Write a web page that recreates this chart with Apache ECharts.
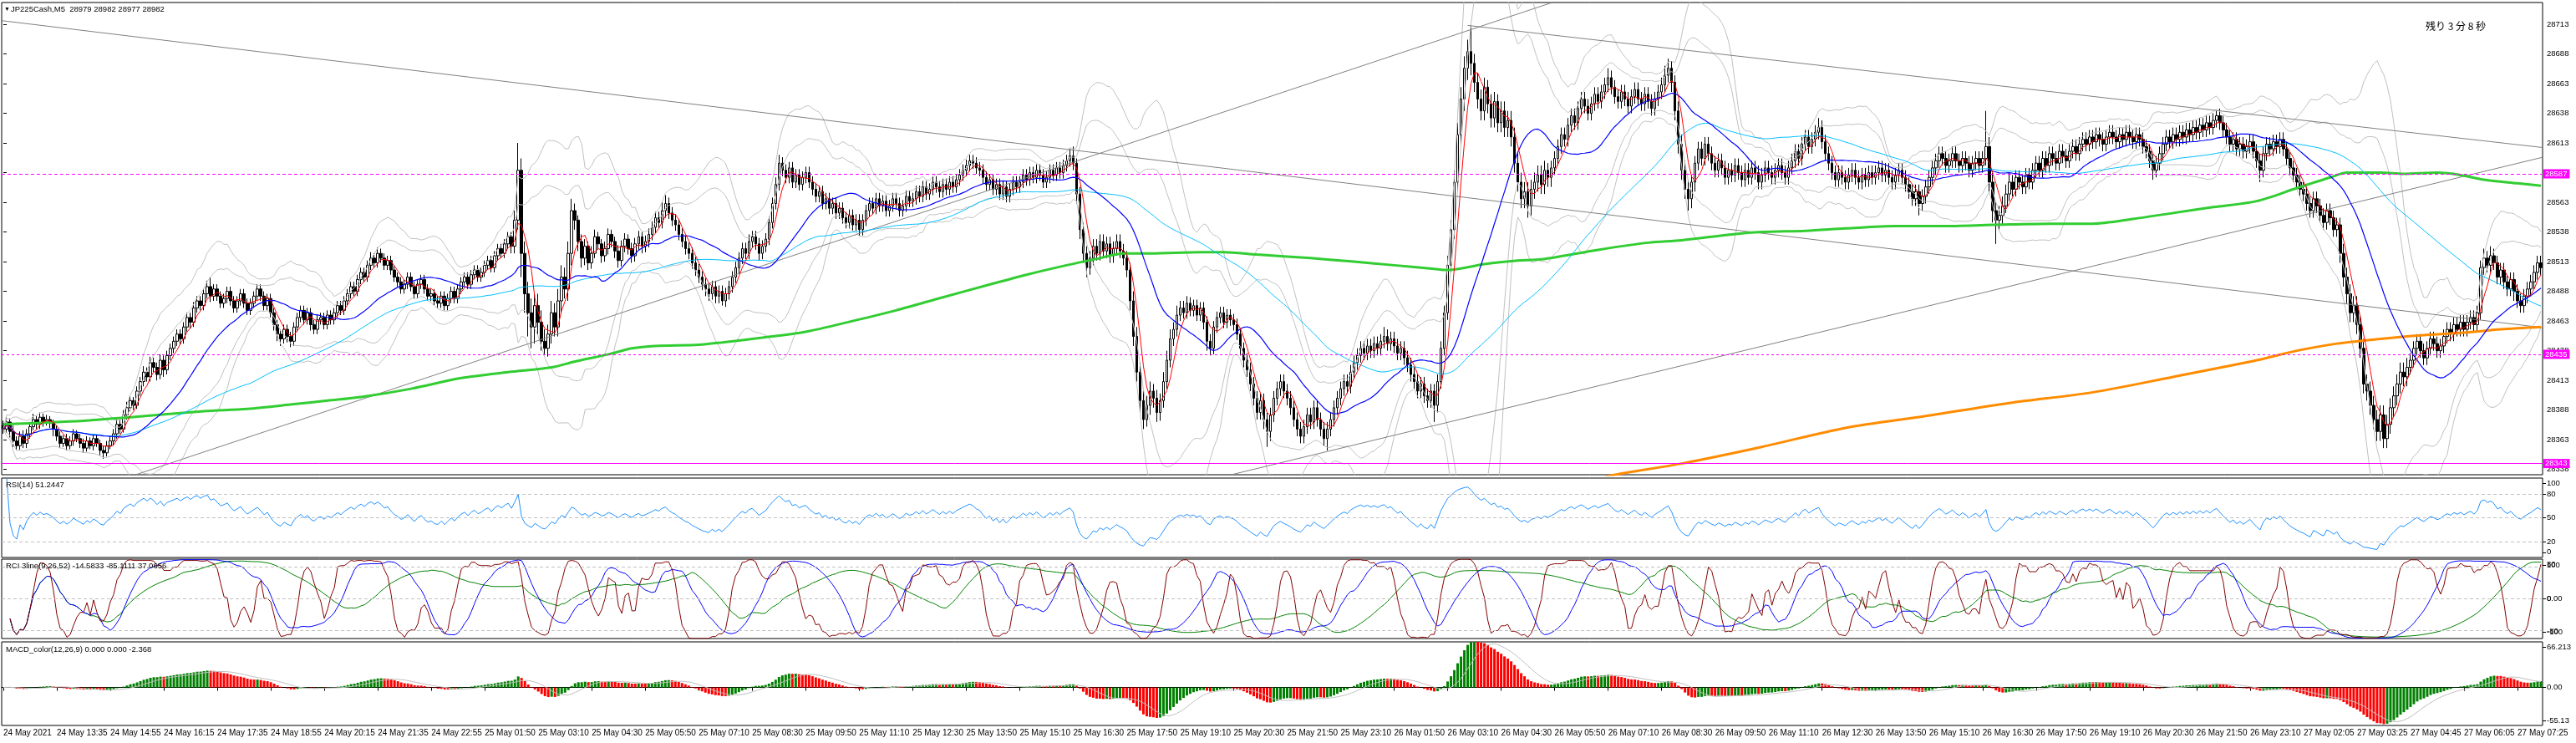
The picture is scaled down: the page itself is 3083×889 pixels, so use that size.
<!DOCTYPE html>
<html><head><meta charset="utf-8">
<script src="https://cdn.jsdelivr.net/npm/echarts@6/dist/echarts.min.js"></script>
<style>html,body{margin:0;padding:0;background:#fff}#c{width:3083px;height:889px}</style>
</head><body><div id="c"></div>
<script>
const timeLabels = ['24 May 2021','24 May 13:35','24 May 14:55','24 May 16:15','24 May 17:35','24 May 18:55','24 May 20:15','24 May 21:35','24 May 22:55','25 May 01:50','25 May 03:10','25 May 04:30','25 May 05:50','25 May 07:10','25 May 08:30','25 May 09:50','25 May 11:10','25 May 12:30','25 May 13:50','25 May 15:10','25 May 16:30','25 May 17:50','25 May 19:10','25 May 20:30','25 May 21:50','25 May 23:10','26 May 01:50','26 May 03:10','26 May 04:30','26 May 05:50','26 May 07:10','26 May 08:30','26 May 09:50','26 May 11:10','26 May 12:30','26 May 13:50','26 May 15:10','26 May 16:30','26 May 17:50','26 May 19:10','26 May 20:30','26 May 21:50','26 May 23:10','27 May 02:05','27 May 03:25','27 May 04:45','27 May 06:05','27 May 07:25'];

const priceTicks = [28338,28363,28388,28413,28438,28463,28488,28513,28538,28563,28588,28613,28638,28663,28688,28713];

const opens = [
28375,28372,28378,28370,28362,28358,28366,28360,28368,28374,28380,28376,28382,28378,28380,28377,
28372,28366,28360,28364,28358,28362,28368,28364,28360,28356,28362,28358,28364,28360,28354,28352,
28358,28362,28368,28376,28372,28384,28390,28396,28392,28404,28412,28420,28416,28428,28424,28418,
28430,28422,28434,28440,28446,28452,28448,28458,28466,28462,28474,28480,28476,28486,28492,28484,
28490,28484,28478,28482,28488,28480,28474,28480,28486,28478,28472,28478,28484,28490,28484,28476,
28482,28470,28460,28452,28448,28456,28450,28446,28458,28466,28472,28464,28470,28460,28456,28464,
28466,28460,28468,28464,28470,28476,28472,28480,28486,28492,28488,28498,28504,28500,28510,28516,
28512,28520,28516,28510,28514,28506,28500,28496,28490,28494,28500,28492,28486,28494,28498,28490,
28484,28486,28480,28478,28484,28476,28482,28488,28482,28490,28496,28500,28494,28502,28506,28500,
28504,28510,28514,28508,28518,28524,28520,28528,28534,28526,28548,28590,28520,28486,28470,28458,
28476,28462,28446,28440,28452,28470,28458,28480,28500,28490,28520,28556,28548,28530,28516,28526,
28512,28520,28534,28528,28518,28524,28536,28530,28522,28514,28526,28532,28524,28518,28528,28534,
28526,28530,28536,28542,28550,28546,28556,28562,28554,28548,28544,28536,28530,28524,28520,28512,
28506,28500,28494,28490,28486,28492,28484,28488,28480,28486,28492,28500,28508,28516,28524,28520,
28530,28534,28528,28520,28526,28532,28546,28562,28578,28596,28590,28584,28592,28580,28586,28578,
28584,28588,28580,28574,28568,28572,28562,28566,28558,28562,28554,28558,28550,28546,28552,28544,
28548,28540,28548,28556,28562,28558,28566,28560,28564,28556,28560,28566,28562,28556,28560,28568,
28564,28566,28572,28568,28576,28570,28574,28580,28576,28572,28578,28574,28580,28576,28582,28586,
28590,28594,28598,28596,28592,28590,28584,28578,28582,28574,28578,28570,28576,28568,28574,28580,
28576,28580,28586,28582,28588,28584,28590,28586,28580,28584,28590,28586,28592,28588,28594,28598,
28602,28596,28570,28540,28520,28508,28516,28526,28520,28530,28522,28528,28518,28524,28530,28522,
28516,28506,28480,28450,28420,28396,28380,28392,28404,28398,28386,28396,28412,28430,28448,28456,
28468,28474,28470,28478,28472,28476,28468,28474,28462,28446,28440,28458,28466,28470,28462,28468,
28464,28460,28452,28440,28430,28422,28410,28398,28386,28396,28380,28370,28384,28398,28406,28412,
28404,28398,28390,28380,28372,28366,28374,28384,28378,28390,28380,28372,28364,28372,28380,28390,
28398,28406,28412,28408,28420,28428,28434,28440,28436,28442,28438,28444,28440,28446,28450,28444,
28448,28442,28436,28440,28432,28426,28418,28412,28404,28410,28400,28396,28404,28392,28412,28440,
28470,28510,28540,28580,28620,28650,28676,28690,28680,28664,28650,28640,28660,28646,28634,28648,
28630,28640,28626,28632,28618,28596,28580,28566,28572,28560,28574,28580,28586,28578,28590,28584,
28592,28600,28610,28620,28616,28628,28636,28630,28642,28650,28644,28638,28646,28654,28648,28656,
28662,28668,28660,28652,28648,28656,28650,28644,28652,28658,28650,28646,28654,28648,28642,28650,
28656,28662,28670,28676,28664,28640,28612,28590,28574,28566,28580,28596,28608,28600,28612,28604,
28596,28590,28598,28592,28584,28590,28586,28594,28588,28582,28590,28584,28592,28588,28580,28586,
28592,28588,28584,28590,28594,28588,28584,28592,28598,28606,28600,28612,28618,28610,28616,28622,
28626,28614,28604,28596,28588,28582,28588,28584,28580,28586,28590,28584,28580,28586,28582,28588,
28584,28588,28592,28586,28590,28584,28580,28586,28590,28584,28578,28572,28566,28572,28562,28568,
28576,28584,28592,28598,28604,28600,28594,28598,28604,28598,28594,28600,28596,28590,28596,28600,
28594,28600,28610,28580,28556,28548,28552,28560,28570,28580,28574,28584,28580,28576,28586,28580,
28590,28596,28590,28600,28594,28604,28600,28596,28606,28602,28598,28606,28610,28604,28612,28616,
28612,28618,28614,28620,28616,28612,28618,28622,28618,28614,28620,28616,28622,28618,28614,28620,
28616,28610,28606,28598,28590,28596,28604,28612,28618,28614,28620,28616,28622,28618,28624,28620,
28626,28622,28628,28624,28630,28626,28632,28636,28630,28624,28618,28612,28616,28608,28612,28606,
28610,28614,28606,28598,28590,28604,28612,28608,28614,28610,28616,28608,28600,28592,28586,28580,
28574,28570,28562,28556,28566,28560,28552,28546,28556,28550,28540,28544,28520,28500,28486,28470,
28476,28460,28440,28410,28404,28392,28380,28370,28384,28364,28376,28390,28400,28410,28420,28416,
28424,28430,28440,28446,28438,28432,28440,28448,28444,28438,28442,28450,28456,28452,28460,28456,
28462,28456,28462,28466,28460,28470,28508,28516,28510,28518,28512,28500,28506,28496,28490,28498,
28488,28480,28476,28484,28490,28496,28504,28512];

const highs = [
28379,28383,28381,28375,28366,28370,28371,28372,28378,28385,28383,28386,28385,28384,28383,28380,
28375,28370,28367,28368,28366,28372,28371,28368,28364,28366,28365,28368,28367,28363,28358,28362,
28366,28372,28380,28380,28388,28395,28400,28399,28408,28416,28425,28424,28433,28432,28428,28435,
28434,28438,28444,28450,28456,28456,28462,28470,28470,28479,28484,28484,28490,28497,28500,28494,
28494,28488,28486,28492,28492,28484,28484,28490,28490,28482,28482,28488,28494,28494,28488,28486,
28486,28474,28464,28456,28460,28460,28454,28462,28470,28476,28476,28474,28474,28464,28468,28470,
28470,28472,28472,28474,28480,28480,28484,28490,28496,28496,28502,28508,28508,28514,28521,28520,
28525,28524,28520,28518,28518,28510,28504,28500,28498,28504,28504,28496,28498,28502,28502,28494,
28490,28490,28484,28488,28488,28486,28492,28492,28494,28500,28504,28504,28506,28510,28510,28508,
28514,28518,28518,28522,28528,28528,28532,28538,28538,28556,28613,28600,28530,28496,28482,28486,
28486,28472,28456,28460,28480,28478,28490,28510,28508,28530,28566,28562,28552,28536,28532,28530,
28526,28540,28538,28532,28530,28541,28540,28534,28527,28531,28537,28536,28529,28533,28539,28538,
28535,28541,28547,28555,28555,28563,28569,28567,28559,28553,28549,28541,28535,28529,28525,28517,
28511,28505,28499,28495,28497,28497,28493,28493,28491,28497,28505,28513,28521,28529,28529,28536,
28539,28539,28533,28531,28537,28551,28567,28584,28603,28601,28595,28597,28597,28591,28591,28589,
28593,28593,28585,28579,28577,28577,28571,28571,28567,28567,28563,28563,28555,28557,28557,28553,
28553,28553,28561,28567,28567,28571,28571,28569,28569,28565,28571,28571,28567,28565,28573,28573,
28571,28577,28577,28581,28581,28579,28585,28585,28581,28583,28583,28585,28585,28587,28591,28595,
28599,28603,28603,28601,28597,28595,28589,28587,28587,28583,28583,28581,28581,28579,28585,28585,
28585,28591,28591,28593,28593,28595,28595,28591,28589,28595,28595,28597,28597,28599,28603,28608,
28610,28600,28576,28546,28526,28522,28532,28532,28536,28536,28534,28534,28530,28536,28536,28528,
28522,28512,28488,28458,28428,28404,28400,28412,28410,28405,28402,28420,28438,28456,28462,28476,
28480,28480,28484,28483,28481,28481,28479,28479,28467,28452,28463,28471,28475,28475,28473,28473,
28469,28465,28457,28445,28436,28428,28416,28404,28402,28402,28386,28390,28404,28412,28418,28418,
28410,28404,28396,28386,28378,28380,28390,28390,28396,28396,28386,28378,28378,28386,28396,28404,
28412,28418,28418,28426,28434,28440,28446,28446,28448,28448,28450,28450,28452,28458,28456,28454,
28454,28448,28446,28446,28438,28432,28424,28418,28416,28416,28406,28410,28410,28418,28446,28476,
28518,28548,28590,28630,28660,28686,28700,28712,28688,28672,28658,28668,28666,28654,28656,28654,
28648,28648,28640,28640,28626,28604,28588,28580,28580,28582,28588,28594,28594,28598,28596,28598,
28606,28616,28626,28626,28634,28642,28642,28648,28656,28656,28650,28652,28660,28660,28662,28668,
28676,28674,28666,28658,28662,28662,28656,28658,28664,28664,28656,28660,28660,28654,28656,28662,
28668,28678,28684,28682,28670,28648,28620,28598,28582,28586,28602,28614,28614,28618,28618,28610,
28602,28604,28604,28598,28596,28596,28600,28600,28594,28596,28596,28598,28598,28594,28592,28598,
28598,28594,28596,28600,28600,28594,28598,28604,28612,28612,28618,28624,28624,28622,28628,28634,
28632,28620,28610,28602,28594,28594,28594,28590,28592,28596,28596,28590,28592,28592,28594,28594,
28594,28598,28598,28596,28596,28590,28592,28596,28596,28590,28584,28578,28578,28578,28574,28582,
28590,28598,28604,28610,28610,28606,28604,28610,28610,28604,28606,28606,28602,28602,28606,28606,
28606,28640,28618,28588,28564,28560,28568,28578,28588,28586,28590,28590,28586,28592,28592,28596,
28602,28602,28606,28606,28610,28610,28606,28612,28612,28608,28612,28616,28616,28618,28622,28622,
28624,28624,28626,28626,28622,28624,28628,28628,28624,28626,28626,28628,28628,28624,28626,28626,
28622,28616,28612,28604,28602,28610,28618,28624,28624,28626,28626,28628,28628,28630,28630,28632,
28632,28634,28634,28636,28636,28638,28640,28642,28636,28630,28624,28622,28622,28618,28618,28616,
28620,28620,28612,28604,28610,28618,28618,28620,28620,28622,28622,28614,28606,28598,28592,28586,
28580,28576,28568,28572,28572,28566,28558,28562,28562,28556,28550,28550,28528,28508,28494,28484,
28484,28468,28448,28418,28412,28400,28388,28392,28392,28384,28398,28408,28418,28428,28428,28432,
28436,28446,28452,28452,28444,28446,28454,28454,28450,28448,28456,28462,28462,28466,28466,28468,
28468,28468,28472,28472,28476,28514,28524,28522,28526,28524,28518,28512,28512,28502,28504,28504,
28494,28486,28490,28496,28502,28510,28518,28518];

const lows = [
28368,28369,28365,28357,28354,28354,28356,28356,28364,28371,28372,28372,28374,28375,28373,28366,
28362,28356,28357,28354,28355,28358,28361,28356,28352,28353,28355,28354,28357,28350,28347,28349,
28355,28358,28364,28368,28369,28380,28387,28388,28389,28400,28408,28412,28412,28420,28413,28414,
28416,28418,28430,28436,28442,28443,28444,28454,28457,28458,28470,28472,28472,28482,28479,28480,
28480,28474,28474,28478,28476,28470,28470,28476,28474,28468,28468,28474,28480,28480,28472,28472,
28466,28455,28446,28442,28444,28445,28441,28442,28454,28462,28460,28460,28455,28452,28452,28460,
28456,28456,28460,28460,28466,28468,28468,28476,28482,28484,28484,28494,28496,28496,28506,28508,
28508,28512,28506,28506,28502,28496,28492,28486,28486,28490,28488,28482,28482,28490,28486,28480,
28480,28476,28474,28474,28472,28472,28478,28478,28478,28486,28492,28490,28490,28498,28496,28496,
28500,28506,28504,28504,28514,28516,28516,28524,28520,28520,28540,28500,28470,28450,28440,28444,
28452,28438,28435,28433,28444,28450,28450,28470,28482,28480,28510,28540,28522,28508,28510,28506,
28507,28516,28523,28512,28513,28519,28525,28516,28508,28509,28521,28519,28512,28513,28523,28520,
28521,28525,28531,28537,28541,28541,28550,28549,28543,28539,28531,28525,28519,28515,28507,28501,
28495,28489,28484,28480,28481,28478,28478,28476,28475,28481,28487,28495,28503,28511,28515,28515,
28525,28523,28514,28515,28521,28527,28541,28557,28573,28585,28579,28579,28575,28575,28573,28573,
28579,28575,28569,28563,28563,28557,28557,28553,28553,28549,28549,28545,28541,28541,28539,28539,
28535,28535,28543,28551,28553,28553,28555,28555,28551,28551,28555,28557,28551,28551,28555,28559,
28559,28561,28563,28563,28565,28565,28569,28571,28567,28567,28569,28569,28571,28571,28577,28581,
28585,28589,28591,28587,28585,28579,28573,28573,28569,28569,28565,28565,28563,28563,28569,28571,
28571,28575,28577,28577,28579,28579,28581,28575,28575,28579,28581,28581,28583,28583,28589,28593,
28590,28562,28532,28512,28500,28502,28510,28514,28514,28516,28516,28512,28512,28518,28516,28510,
28500,28472,28442,28412,28386,28372,28374,28384,28390,28378,28379,28390,28406,28424,28442,28450,
28463,28465,28465,28467,28467,28463,28463,28456,28438,28434,28435,28453,28461,28457,28457,28459,
28455,28447,28434,28424,28416,28404,28392,28380,28380,28372,28357,28362,28378,28392,28400,28398,
28392,28384,28374,28366,28360,28360,28368,28372,28372,28374,28366,28358,28354,28366,28374,28384,
28392,28400,28402,28402,28414,28422,28428,28430,28430,28432,28432,28434,28434,28440,28438,28438,
28436,28430,28430,28426,28420,28412,28406,28398,28398,28394,28390,28390,28378,28386,28406,28434,
28464,28504,28532,28572,28612,28640,28666,28670,28656,28642,28632,28632,28638,28626,28626,28622,
28622,28618,28618,28610,28588,28572,28558,28558,28550,28552,28566,28572,28570,28570,28576,28576,
28586,28594,28604,28610,28610,28622,28624,28624,28636,28638,28632,28632,28640,28642,28642,28650,
28656,28654,28646,28642,28642,28644,28638,28638,28646,28644,28640,28640,28642,28636,28636,28644,
28650,28656,28664,28656,28632,28604,28582,28566,28556,28558,28572,28590,28594,28594,28598,28590,
28584,28584,28586,28578,28578,28580,28580,28582,28576,28576,28578,28578,28582,28574,28574,28580,
28582,28578,28578,28584,28582,28578,28578,28586,28592,28594,28594,28606,28604,28604,28610,28616,
28608,28598,28590,28582,28576,28576,28578,28574,28574,28580,28578,28574,28574,28576,28576,28578,
28578,28582,28580,28580,28578,28574,28574,28580,28578,28572,28566,28560,28560,28552,28556,28562,
28570,28578,28586,28592,28594,28588,28588,28592,28592,28588,28588,28590,28584,28584,28590,28588,
28588,28594,28572,28546,28528,28540,28544,28554,28564,28568,28568,28574,28570,28570,28574,28574,
28584,28584,28584,28588,28588,28594,28590,28590,28596,28592,28592,28600,28598,28598,28606,28606,
28606,28608,28608,28610,28606,28606,28612,28612,28608,28608,28610,28610,28612,28608,28608,28610,
28604,28600,28592,28582,28584,28590,28598,28606,28608,28608,28610,28610,28612,28612,28614,28614,
28616,28616,28618,28618,28620,28620,28626,28624,28618,28612,28606,28606,28602,28602,28600,28600,
28604,28600,28592,28580,28584,28598,28602,28602,28604,28604,28602,28594,28586,28580,28574,28568,
28564,28556,28550,28550,28554,28546,28540,28540,28544,28534,28534,28512,28492,28478,28462,28462,
28452,28432,28402,28396,28384,28372,28362,28362,28356,28356,28368,28382,28392,28402,28408,28408,
28418,28424,28434,28432,28426,28426,28434,28438,28432,28432,28436,28444,28446,28446,28450,28450,
28450,28450,28456,28454,28454,28464,28502,28504,28504,28506,28494,28494,28490,28484,28484,28480,
28474,28470,28470,28478,28484,28490,28498,28502];

const closes = [
28372,28378,28370,28362,28358,28366,28360,28368,28374,28380,28376,28382,28378,28380,28377,28372,
28366,28360,28364,28358,28362,28368,28364,28360,28356,28362,28358,28364,28360,28354,28352,28358,
28362,28368,28376,28372,28384,28390,28396,28392,28404,28412,28420,28416,28428,28424,28418,28430,
28422,28434,28440,28446,28452,28448,28458,28466,28462,28474,28480,28476,28486,28492,28484,28490,
28484,28478,28482,28488,28480,28474,28480,28486,28478,28472,28478,28484,28490,28484,28476,28482,
28470,28460,28452,28448,28456,28450,28446,28458,28466,28472,28464,28470,28460,28456,28464,28466,
28460,28468,28464,28470,28476,28472,28480,28486,28492,28488,28498,28504,28500,28510,28516,28512,
28520,28516,28510,28514,28506,28500,28496,28490,28494,28500,28492,28486,28494,28498,28490,28484,
28486,28480,28478,28484,28476,28482,28488,28482,28490,28496,28500,28494,28502,28506,28500,28504,
28510,28514,28508,28518,28524,28520,28528,28534,28526,28548,28590,28520,28486,28470,28458,28476,
28462,28446,28440,28452,28470,28458,28480,28500,28490,28520,28556,28548,28530,28516,28526,28512,
28520,28534,28528,28518,28524,28536,28530,28522,28514,28526,28532,28524,28518,28528,28534,28526,
28530,28536,28542,28550,28546,28556,28562,28554,28548,28544,28536,28530,28524,28520,28512,28506,
28500,28494,28490,28486,28492,28484,28488,28480,28486,28492,28500,28508,28516,28524,28520,28530,
28534,28528,28520,28526,28532,28546,28562,28578,28596,28590,28584,28592,28580,28586,28578,28584,
28588,28580,28574,28568,28572,28562,28566,28558,28562,28554,28558,28550,28546,28552,28544,28548,
28540,28548,28556,28562,28558,28566,28560,28564,28556,28560,28566,28562,28556,28560,28568,28564,
28566,28572,28568,28576,28570,28574,28580,28576,28572,28578,28574,28580,28576,28582,28586,28590,
28594,28598,28596,28592,28590,28584,28578,28582,28574,28578,28570,28576,28568,28574,28580,28576,
28580,28586,28582,28588,28584,28590,28586,28580,28584,28590,28586,28592,28588,28594,28598,28602,
28596,28570,28540,28520,28508,28516,28526,28520,28530,28522,28528,28518,28524,28530,28522,28516,
28506,28480,28450,28420,28396,28380,28392,28404,28398,28386,28396,28412,28430,28448,28456,28468,
28474,28470,28478,28472,28476,28468,28474,28462,28446,28440,28458,28466,28470,28462,28468,28464,
28460,28452,28440,28430,28422,28410,28398,28386,28396,28380,28370,28384,28398,28406,28412,28404,
28398,28390,28380,28372,28366,28374,28384,28378,28390,28380,28372,28364,28372,28380,28390,28398,
28406,28412,28408,28420,28428,28434,28440,28436,28442,28438,28444,28440,28446,28450,28444,28448,
28442,28436,28440,28432,28426,28418,28412,28404,28410,28400,28396,28404,28392,28412,28440,28470,
28510,28540,28580,28620,28650,28676,28690,28680,28664,28650,28640,28660,28646,28634,28648,28630,
28640,28626,28632,28618,28596,28580,28566,28572,28560,28574,28580,28586,28578,28590,28584,28592,
28600,28610,28620,28616,28628,28636,28630,28642,28650,28644,28638,28646,28654,28648,28656,28662,
28668,28660,28652,28648,28656,28650,28644,28652,28658,28650,28646,28654,28648,28642,28650,28656,
28662,28670,28676,28664,28640,28612,28590,28574,28566,28580,28596,28608,28600,28612,28604,28596,
28590,28598,28592,28584,28590,28586,28594,28588,28582,28590,28584,28592,28588,28580,28586,28592,
28588,28584,28590,28594,28588,28584,28592,28598,28606,28600,28612,28618,28610,28616,28622,28626,
28614,28604,28596,28588,28582,28588,28584,28580,28586,28590,28584,28580,28586,28582,28588,28584,
28588,28592,28586,28590,28584,28580,28586,28590,28584,28578,28572,28566,28572,28562,28568,28576,
28584,28592,28598,28604,28600,28594,28598,28604,28598,28594,28600,28596,28590,28596,28600,28594,
28600,28610,28580,28556,28548,28552,28560,28570,28580,28574,28584,28580,28576,28586,28580,28590,
28596,28590,28600,28594,28604,28600,28596,28606,28602,28598,28606,28610,28604,28612,28616,28612,
28618,28614,28620,28616,28612,28618,28622,28618,28614,28620,28616,28622,28618,28614,28620,28616,
28610,28606,28598,28590,28596,28604,28612,28618,28614,28620,28616,28622,28618,28624,28620,28626,
28622,28628,28624,28630,28626,28632,28636,28630,28624,28618,28612,28616,28608,28612,28606,28610,
28614,28606,28598,28590,28604,28612,28608,28614,28610,28616,28608,28600,28592,28586,28580,28574,
28570,28562,28556,28566,28560,28552,28546,28556,28550,28540,28544,28520,28500,28486,28470,28476,
28460,28440,28410,28404,28392,28380,28370,28384,28364,28376,28390,28400,28410,28420,28416,28424,
28430,28440,28446,28438,28432,28440,28448,28444,28438,28442,28450,28456,28452,28460,28456,28462,
28456,28462,28466,28460,28470,28508,28516,28510,28518,28512,28500,28506,28496,28490,28498,28488,
28480,28476,28484,28490,28496,28504,28512,28508];

// long moving averages: [bar index, price]
const greenMA = [[0,28376],[24,28379],[38,28382],[60,28387],[73,28389],[87,28393],[97,28396],[107,28399],[122,28406],[137,28415],[151,28420],[164,28424],[171,28429],[181,28435],[188,28440],[195,28442],[208,28443],[215,28445],[227,28449],[240,28454],[254,28463],[267,28472],[281,28483],[294,28493],[306,28502],[318,28510],[328,28516],[335,28520],[343,28520],[358,28521],[365,28521],[375,28519],[391,28516],[404,28513],[416,28510],[428,28507],[432,28506],[443,28511],[453,28514],[460,28515],[477,28523],[492,28529],[502,28531],[517,28536],[526,28538],[539,28539],[551,28541],[566,28543],[580,28543],[595,28544],[612,28545],[625,28545],[637,28549],[649,28554],[661,28559],[674,28564],[686,28575],[696,28584],[701,28588],[711,28588],[718,28587],[728,28588],[735,28586],[742,28582],[752,28579],[759,28577]];
const orangeMA = [[478,28330],[481,28333],[502,28343],[526,28357],[551,28373],[575,28383],[600,28394],[625,28403],[649,28416],[674,28430],[686,28438],[698,28444],[711,28448],[723,28451],[735,28453],[747,28456],[759,28458]];

// trend lines: [bar index, price] endpoints
const trendA = [[-1,28716.2],[760,28457.3]];
const trendB = [[438,28712],[760,28609]];
const trendC = [[39,28333],[464,28732]];
const trendD = [[360,28328.6],[760,28601.3]];

const levelDash = 28587, levelDot = 28435, levelSolid = 28343;

// ---------- indicator calculations from the candle data ----------
function sma(src,n){const out=[];let s=0;for(let i=0;i<src.length;i++){s+=src[i];if(i>=n)s-=src[i-n];out.push(s/Math.min(n,i+1));}return out;}
function band(src,n,k){const m=sma(src,n);return src.map((_,i)=>{const a=Math.max(0,i-n+1);let v=0;for(let j=a;j<=i;j++){v+=(src[j]-m[i])**2;}return m[i]+k*Math.sqrt(v/(i-a+1));});}
function rsi(src,n){const out=[null];let ag=0,al=0;for(let i=1;i<src.length;i++){const ch=src[i]-src[i-1];const g=Math.max(ch,0),l=Math.max(-ch,0);if(i<=n){ag=(ag*(i-1)+g)/i;al=(al*(i-1)+l)/i;}else{ag=(ag*(n-1)+g)/n;al=(al*(n-1)+l)/n;}out.push(al===0?100:100-100/(1+ag/al));}return out;}
function rci(src,n){const out=[];for(let i=0;i<src.length;i++){const m=Math.min(n,i+1);if(m<3){out.push(null);continue;}const w=src.slice(i-m+1,i+1);let d2=0;for(let j=0;j<m;j++){const dr=m-j;let gt=0,eq=0;for(let q=0;q<m;q++){if(w[q]>w[j])gt++;else if(w[q]===w[j])eq++;}const pr=gt+(eq+1)/2;d2+=(dr-pr)**2;}out.push((1-6*d2/(m*(m*m-1)))*100);}return out;}
function ema(src,n){const a=2/(n+1);let e=src[0];return src.map(x=>(e=e+a*(x-e)));}

const ma5 = sma(closes,5), ma25 = sma(closes,25), ma75 = sma(closes,75);
const bbU2 = band(closes,20,2), bbL2 = band(closes,20,-2), bbU3 = band(closes,20,3), bbL3 = band(closes,20,-3);
const rsi14 = rsi(closes,14);
const rci9 = rci(closes,9), rci26 = rci(closes,26), rci52 = rci(closes,52);
const e12 = ema(closes,12), e26 = ema(closes,26);
const macdMain = e12.map((v,i)=>v-e26[i]);
const macdSignal = sma(macdMain,9);

const barIndex = closes.map((_,i)=>String(i));
const candleData = closes.map((c,i)=>[opens[i],c,lows[i],highs[i]]);

const FONT = '"Liberation Sans", Arial, sans-serif';
const LEFT = 2, WIDTH = 3041;
const grids = [
  {left:LEFT, top:3, width:WIDTH, height:565},
  {left:LEFT, top:572, width:WIDTH, height:95},
  {left:LEFT, top:669, width:WIDTH, height:95},
  {left:LEFT, top:768, width:WIDTH, height:100}
].map(g=>Object.assign(g,{show:true,borderColor:'#000',borderWidth:1,backgroundColor:'#fff'}));

const xAxes = [0,1,2,3].map(g=>({type:'category',gridIndex:g,data:barIndex,boundaryGap:true,axisLine:{show:false},axisTick:{show:false},axisLabel:{show:false},splitLine:{show:false}}));
xAxes[3].axisLine = {show:true,lineStyle:{color:'#000',width:1}};
xAxes[3].axisTick = {show:true,interval:15,alignWithLabel:true,length:4,lineStyle:{color:'#000'}};
xAxes[3].axisLabel = {show:true,interval:15,align:'left',margin:4,color:'#000',fontSize:10,fontFamily:FONT,formatter:(v,i)=>timeLabels[i/16]||''};
xAxes.push({type:'value',gridIndex:0,min:-0.5,max:barIndex.length-0.5,show:false});

function yAx(grid,min,max,ticks,fmt){return {type:'value',gridIndex:grid,position:'right',min:min,max:max,splitLine:{show:false},axisLine:{show:false},
  axisTick:{show:true,length:4,lineStyle:{color:'#000'},customValues:ticks},
  axisLabel:{show:true,color:'#000',fontSize:9.5,fontFamily:FONT,margin:5,customValues:ticks,formatter:fmt}};}

const rsiLabelAt = {93.5:'100',80:'80',50:'50',20:'20',6.5:'0'};
const rciLabelA = {85:'100',0:'0','-84':'-100'};
const rciLabelB = {87:'80',0:'0.00','-82':'-80'};
const macdLabelAt = {59:'66.213',0:'0.00','-47.9':'-55.13'};

const yAxes = [
  yAx(0,28333.57,28731.3,priceTicks,v=>String(v)),
  yAx(1,0,100,[93.5,80,50,20,6.5],v=>rsiLabelAt[v]),
  yAx(2,-100,100,[85,0,-84],v=>rciLabelA[v]),
  yAx(2,-100,100,[87,0,-82],v=>rciLabelB[v]),
  yAx(3,-55.13,66.213,[59,0,-47.9],v=>macdLabelAt[v])
];
yAxes[3].axisTick = {show:false};

const lineS = (data,color,width,xi,yi,extra)=>Object.assign({type:'line',data:data,xAxisIndex:xi,yAxisIndex:yi,symbol:'none',smooth:false,silent:true,animation:false,lineStyle:{color:color,width:width},z:3},extra||{});
const dashLevel = (vals)=>({silent:true,symbol:'none',animation:false,label:{show:false},lineStyle:{color:'#C0C0C0',type:[4,3],width:1},data:vals.map(v=>({yAxis:v}))});
const boxLabel = (txt)=>({show:true,position:'end',formatter:txt,color:'#fff',backgroundColor:'#FF00FF',padding:[1,3,0,2],fontSize:9.5,fontFamily:FONT,distance:1});

const series = [
  {type:'candlestick',xAxisIndex:0,yAxisIndex:0,data:candleData,barWidth:3,large:false,progressive:0,animation:false,silent:true,z:2,
   itemStyle:{color:'#fff',color0:'#000',borderColor:'#000',borderColor0:'#000',borderWidth:1}},
  lineS(bbU3,'#C0C0C0',1,0,0), lineS(bbU2,'#C0C0C0',1,0,0), lineS(bbL2,'#C0C0C0',1,0,0), lineS(bbL3,'#C0C0C0',1,0,0),
  lineS(trendA,'#808080',1,4,0), lineS(trendB,'#808080',1,4,0), lineS(trendC,'#808080',1,4,0), lineS(trendD,'#808080',1,4,0),
  lineS(greenMA,'#32CD32',3,4,0,{smooth:0.3}),
  lineS(orangeMA,'#FF8C00',3,4,0,{smooth:0.3}),
  lineS(ma75,'#00BFFF',1,0,0),
  lineS(ma25,'#0000FF',1.2,0,0),
  lineS(ma5,'#FF0000',1,0,0,{markLine:{silent:true,symbol:'none',animation:false,z:10,data:[
     {yAxis:levelDash,lineStyle:{color:'#FF00FF',type:[4,3],width:1},label:boxLabel(String(levelDash))},
     {yAxis:levelDot,lineStyle:{color:'#FF00FF',type:[3,3],width:1},label:boxLabel(String(levelDot))},
     {yAxis:levelSolid,lineStyle:{color:'#FF00FF',type:'solid',width:1},label:boxLabel(String(levelSolid))}]}}),
  lineS(rsi14,'#1E90FF',1,1,1,{markLine:dashLevel([80,50,20])}),
  lineS(rci52,'#008000',1,2,2,{markLine:dashLevel([80,0,-80])}),
  lineS(rci26,'#0000FF',1,2,2),
  lineS(rci9,'#800000',1,2,2),
  {type:'bar',xAxisIndex:3,yAxisIndex:4,barWidth:3,animation:false,silent:true,
   data:macdMain.map((v,i)=>({value:v,itemStyle:{color:(i>0&&v<macdMain[i-1])?'#FF0000':'#008000'}}))},
  lineS(macdSignal,'#C0C0C0',1,3,4)
];

const txt = (x,y,t,size,fam,extra)=>Object.assign({type:'text',x:x,y:y,silent:true,z:100,style:{text:t,fill:'#000',fontSize:size,fontFamily:fam||FONT,verticalAlign:'middle'}},extra||{});
const graphics = [
  txt(5,11,'▼',7),
  txt(13,11,'JP225Cash,M5  28979 28982 28977 28982',9.5),
  txt(2903,31,'残り 3 分 8 秒',12,'"Noto Sans CJK JP", sans-serif'),
  txt(7,580,'RSI(14) 51.2447',9.5),
  txt(7,677,'RCI 3line(9,26,52) -14.5833 -85.1111 37.0656',9.5),
  txt(7,777,'MACD_color(12,26,9) 0.000 0.000 -2.368',9.5)
];

const chart = echarts.init(document.getElementById('c'));
chart.setOption({animation:false,backgroundColor:'#fff',grid:grids,xAxis:xAxes,yAxis:yAxes,series:series,graphic:graphics});
</script></body></html>
